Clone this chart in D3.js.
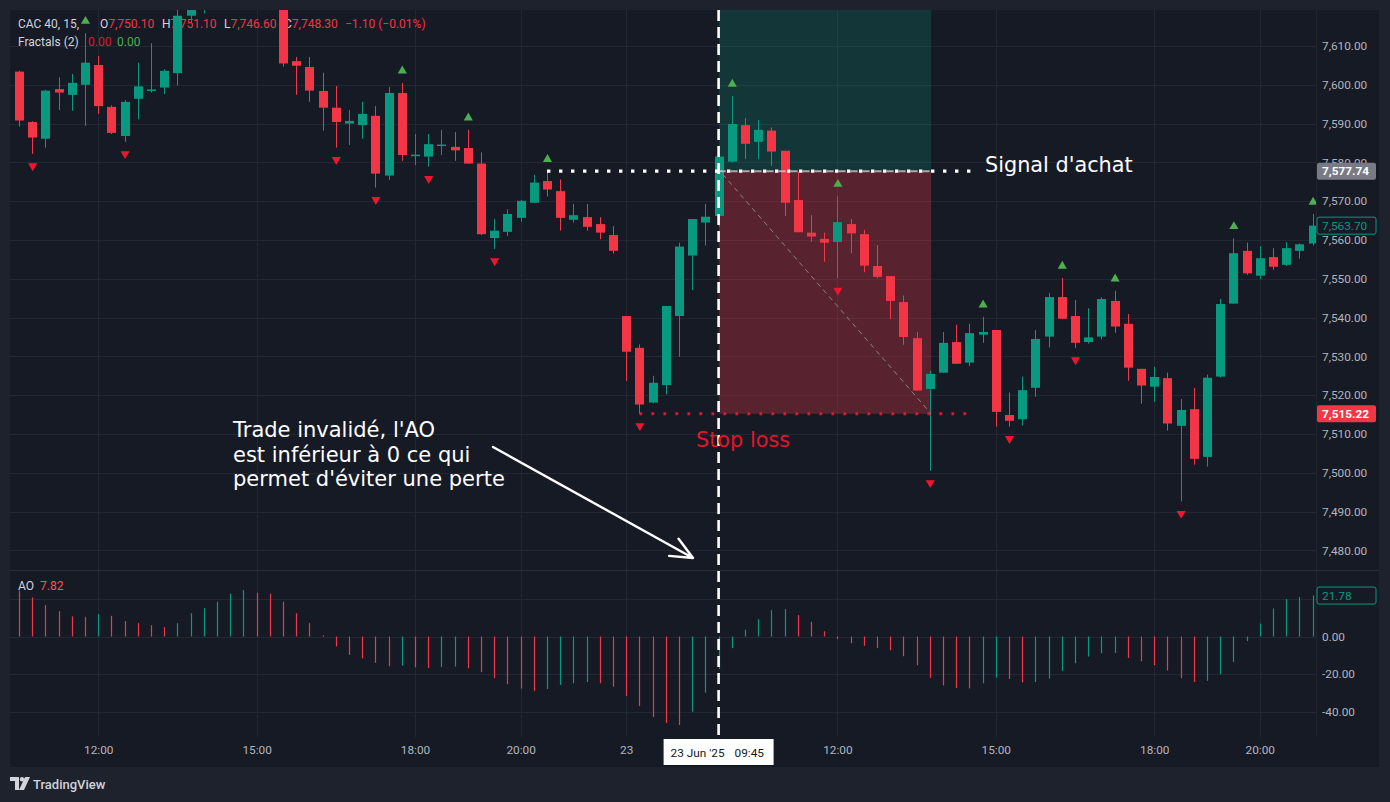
<!DOCTYPE html>
<html><head><meta charset="utf-8">
<script src="https://cdn.jsdelivr.net/npm/d3@7"></script>
<style>
html,body{margin:0;padding:0;background:#1e222d;}
svg{display:block;}
</style></head>
<body><svg id="c" width="1390" height="802"></svg>
<script>
// ---------- DATA ----------
const opens = [7603.4,7590.4,7586.1,7598.9,7597.4,7600.0,7605.1,7594.3,7586.8,7596.4,7598.5,7599.3,7603.0,7617.8,7626.0,7630.0,7637.0,7633.0,7629.0,7626.0,
7624.0,7606.1,7604.6,7598.4,7594.1,7590.0,7589.6,7592.0,7576.6,7597.9,7581.6,7581.5,7584.4,7584.0,7583.7,7579.7,7560.5,7562.1,7565.7,7569.6,
7575.2,7572.6,7565.2,7565.9,7564.1,7561.3,7540.4,7532.2,7518.1,7522.6,7540.4,7556.0,7564.5,7566.2,7580.2,7589.6,7585.3,7588.2,7583.0,7570.3,
7561.9,7560.3,7559.5,7564.1,7561.5,7553.3,7550.7,7544.0,7534.7,7521.6,7525.8,7533.7,7528.4,7535.6,7536.8,7514.9,7513.8,7521.9,7535.1,7545.3,
7540.4,7533.7,7535.1,7544.3,7538.4,7526.8,7522.2,7524.4,7512.1,7516.4,7504.1,7524.8,7543.6,7557.2,7550.8,7555.6,7553.6,7557.2,7559.1];
const highs = [7603.6,7590.6,7598.7,7601.9,7602.8,7613.3,7607.4,7594.7,7596.1,7605.7,7610.7,7604.0,7619.3,7628.0,7634.0,7640.0,7642.0,7638.0,7633.0,7630.0,
7626.0,7607.2,7607.2,7603.1,7599.7,7593.5,7595.6,7594.5,7599.4,7600.5,7587.3,7587.3,7588.4,7587.8,7588.4,7582.6,7565.4,7567.9,7570.3,7576.8,
7577.7,7575.6,7569.3,7569.3,7565.9,7563.6,7540.4,7533.1,7525.0,7543.0,7559.3,7565.4,7569.3,7581.7,7597.1,7591.4,7590.9,7589.0,7583.0,7577.6,
7566.4,7561.9,7571.3,7565.4,7562.6,7558.7,7550.7,7545.7,7536.3,7526.3,7536.3,7538.2,7538.4,7540.2,7536.8,7520.7,7524.8,7536.8,7546.3,7550.2,
7544.5,7542.4,7545.2,7546.9,7540.9,7526.8,7527.3,7525.8,7519.0,7521.9,7525.3,7544.8,7560.4,7559.3,7558.4,7557.9,7559.5,7559.1,7566.7];
const lows = [7589.2,7582.2,7583.8,7593.5,7593.3,7589.4,7592.5,7587.3,7585.3,7591.1,7598.0,7597.6,7599.8,7616.0,7618.4,7627.0,7630.0,7626.0,7622.0,7621.0,
7604.7,7597.4,7595.6,7588.2,7583.8,7584.5,7586.1,7573.5,7575.5,7580.4,7579.3,7578.9,7581.9,7580.4,7579.6,7561.3,7557.7,7561.0,7564.7,7569.5,
7571.2,7562.4,7564.5,7562.4,7560.2,7556.5,7523.7,7515.2,7517.9,7520.2,7529.9,7547.1,7558.6,7563.4,7580.0,7580.9,7580.8,7579.1,7566.2,7562.0,
7559.5,7554.4,7550.1,7556.6,7551.7,7550.1,7539.6,7533.0,7521.2,7500.5,7525.8,7528.1,7527.5,7533.5,7511.9,7511.9,7512.2,7519.6,7532.3,7539.6,
7532.2,7533.3,7534.4,7536.1,7523.7,7517.8,7518.3,7510.9,7492.6,7502.1,7501.6,7524.6,7543.6,7551.0,7549.9,7552.3,7553.3,7555.2,7558.6];
const closes = [7590.8,7586.4,7598.5,7598.0,7600.5,7605.7,7594.5,7587.6,7595.6,7599.6,7598.8,7603.6,7617.8,7626.0,7630.0,7637.0,7633.0,7629.0,7626.0,7624.0,
7605.5,7604.9,7598.5,7594.1,7590.4,7590.7,7592.5,7577.1,7597.9,7581.9,7582.0,7584.7,7584.6,7583.1,7579.7,7561.5,7562.4,7566.7,7570.1,7574.8,
7573.0,7565.7,7566.4,7563.4,7561.9,7557.2,7531.2,7517.6,7523.2,7543.0,7558.3,7565.4,7566.0,7581.5,7589.9,7584.8,7588.4,7582.8,7569.6,7562.0,
7560.9,7559.3,7564.6,7561.7,7553.4,7550.5,7544.3,7535.0,7521.2,7525.5,7533.5,7528.1,7536.0,7536.3,7515.7,7513.4,7521.3,7534.5,7545.3,7539.7,
7533.5,7534.9,7544.8,7537.7,7527.1,7522.5,7524.7,7512.7,7516.2,7503.6,7524.5,7543.5,7556.6,7551.4,7555.3,7553.1,7557.9,7558.9,7563.7];
const aoValues = [24.4,20.8,16.7,13.5,10.7,10.5,11.9,11.0,8.2,7.1,6.0,5.0,7.1,12.4,15.1,18.5,22.8,24.7,23.3,22.8,
18.5,12.4,7.1,0.7,-5.3,-9.8,-11.6,-14.0,-15.8,-15.5,-16.4,-16.7,-16.2,-16.0,-16.9,-19.0,-22.2,-25.4,-27.7,-29.0,
-27.9,-25.8,-24.9,-24.2,-24.9,-26.7,-31.6,-37.0,-42.8,-46.0,-47.1,-40.0,-29.9,-17.4,-6.2,3.6,9.2,14.0,14.6,11.4,
7.8,2.8,-1.4,-3.6,-5.0,-6.2,-7.3,-10.5,-15.3,-22.0,-26.0,-27.4,-27.6,-24.9,-21.9,-22.6,-24.4,-24.2,-22.4,-18.3,
-14.2,-10.7,-8.9,-8.7,-11.4,-13.2,-15.3,-18.1,-22.2,-24.2,-23.6,-20.1,-13.5,-2.5,6.9,14.9,19.9,21.0,21.78];
const aoBefore = 27.0;
const fractalUp = [5,29,34,40,54,62,73,79,83,92,98];
const fractalDown = [1,8,24,27,31,36,47,62,69,75,80,88];
const priceTicks = [7480,7490,7500,7510,7520,7530,7540,7550,7560,7570,7580,7590,7600,7610];
const aoTicks = [-40,-20,0,20];
const aoTickLabels = ["-40.00","-20.00","0.00",""];
const timeTickIdx = [6,18,30,38,46,62,74,86,94];
const timeTickLabels = ["12:00","15:00","18:00","20:00","23","12:00","15:00","18:00","20:00"];
const signalBar = 53, signalLabelA = "23 Jun '25", signalLabelB = "09:45";
const entryPrice = 7577.74, stopPrice = 7515.22, targetPrice = 7640.26, lastPrice = 7563.70, lastAO = 21.78;
const positionEndBar = 69.1, signalLineStart = 40, signalLineEndBar = 72.1, stopLineStart = 47, stopLineEndBar = 72.0;
const noteLines = ["Trade invalidé, l'AO","est inférieur à 0 ce qui","permet d'éviter une perte"];

// ---------- LAYOUT ----------
const L = 10, R = 1316, T = 10, MB = 570, AT = 571, AB = 737, XB = 767;
const svg = d3.select("#c");
const C = {bg:"#161a25", outer:"#1e222d", grid:"#232733", border:"#2a2e39", text:"#b2b5be",
  up:"#089981", down:"#f23645", fup:"#4caf50", fdown:"#f0152f"};
const FONT = "Roboto, 'Noto Sans', sans-serif";

const x = d3.scaleLinear().domain([0, 98]).range([19, 1312.6]);
const y = d3.scaleLinear().domain([7480, 7610]).range([550.4, 46]);
const ya = d3.scaleLinear().domain([-40, 0]).range([711.7, 636.5]);

svg.append("rect").attr("width",1390).attr("height",802).attr("fill",C.outer);
svg.append("rect").attr("x",L).attr("y",T).attr("width",1379-L).attr("height",XB-T).attr("fill",C.bg);

const defs = svg.append("defs");
defs.append("clipPath").attr("id","cm").append("rect").attr("x",L).attr("y",T).attr("width",R-L).attr("height",MB-T);
defs.append("clipPath").attr("id","ca").append("rect").attr("x",L).attr("y",AT).attr("width",R-L).attr("height",AB-AT);

// gridlines
const grid = svg.append("g");
grid.selectAll(".vg").data(timeTickIdx).join("line")
  .attr("x1",d=>Math.round(x(d))+0.5).attr("x2",d=>Math.round(x(d))+0.5)
  .attr("y1",T).attr("y2",AB).attr("stroke",C.grid);
grid.selectAll(".hg").data(priceTicks).join("line")
  .attr("x1",L).attr("x2",R).attr("y1",d=>Math.round(y(d))+0.5).attr("y2",d=>Math.round(y(d))+0.5).attr("stroke",C.grid);
grid.selectAll(".ag").data(aoTicks).join("line")
  .attr("x1",L).attr("x2",R).attr("y1",d=>Math.round(ya(d))+0.5).attr("y2",d=>Math.round(ya(d))+0.5).attr("stroke",C.grid);

// separators
svg.append("line").attr("x1",L).attr("x2",1379).attr("y1",MB+0.5).attr("y2",MB+0.5).attr("stroke",C.border);
svg.append("line").attr("x1",R+0.5).attr("x2",R+0.5).attr("y1",T).attr("y2",AB).attr("stroke",C.border).attr("stroke-opacity",0.5);

// header legends
const hdr = svg.append("g").attr("font-family",FONT).attr("font-size",12);
function txt(g, xx, yy, s, col){ return g.append("text").attr("x",xx).attr("y",yy).attr("fill",col).text(s); }
txt(hdr,18,28,"CAC 40, 15,","#d1d4dc");
[["O","7,750.10",100],["H","7,751.10",162],["L","7,746.60",224],["C","7,748.30",284]].forEach(([k,v,xx])=>{
  const t = hdr.append("text").attr("x",xx).attr("y",28);
  t.append("tspan").attr("fill","#d1d4dc").text(k);
  t.append("tspan").attr("fill",C.down).text(v);
});
txt(hdr,345,28,"\u22121.10 (\u22120.01%)",C.down);
txt(hdr,18,46,"Fractals (2)","#d1d4dc");
txt(hdr,88,46,"0.00","#e0162b");
txt(hdr,117,46,"0.00","#4caf50");
txt(hdr,18,590,"AO","#d1d4dc");
txt(hdr,40,590,"7.82","#f7525f");

// ---------- position tool zones ----------
const pos = svg.append("g").attr("clip-path","url(#cm)");
pos.append("rect").attr("x",x(signalBar)).attr("width",x(positionEndBar)-x(signalBar))
  .attr("y",y(targetPrice)).attr("height",y(entryPrice)-y(targetPrice)).attr("fill","rgba(8,153,129,0.22)");
pos.append("rect").attr("x",x(signalBar)).attr("width",x(positionEndBar)-x(signalBar))
  .attr("y",y(entryPrice)).attr("height",y(stopPrice)-y(entryPrice)).attr("fill","rgba(242,54,69,0.30)");

// ---------- candles ----------
const bars = d3.range(opens.length).map(i=>({i,o:opens[i],h:highs[i],l:lows[i],c:closes[i]}));
const cg = svg.append("g").attr("clip-path","url(#cm)");
const bw = 9;
cg.selectAll(".w").data(bars).join("line")
  .attr("x1",d=>Math.round(x(d.i))+0.5).attr("x2",d=>Math.round(x(d.i))+0.5)
  .attr("y1",d=>y(d.h)).attr("y2",d=>y(d.l))
  .attr("stroke",d=>d.c>=d.o?C.up:C.down).attr("stroke-width",1);
cg.selectAll(".b").data(bars).join("rect")
  .attr("x",d=>Math.round(x(d.i))-4).attr("width",bw)
  .attr("y",d=>y(Math.max(d.o,d.c))).attr("height",d=>Math.max(1.5,Math.abs(y(d.o)-y(d.c))))
  .attr("fill",d=>d.c>=d.o?C.up:C.down);

// fractals
const tri = d3.symbol().type(d3.symbolTriangle).size(36);
cg.selectAll(".fu").data(fractalUp).join("path").attr("d",tri)
  .attr("transform",i=>`translate(${x(i)+0.5},${y(highs[i])-12})`).attr("fill",C.fup);
cg.selectAll(".fd").data(fractalDown).join("path").attr("d",tri)
  .attr("transform",i=>`translate(${x(i)+0.5},${y(lows[i])+12}) rotate(180)`).attr("fill",C.fdown);

// ---------- lines of the annotation ----------
const an = svg.append("g").attr("clip-path","url(#cm)");
an.append("line").attr("x1",x(signalBar)).attr("x2",x(positionEndBar)).attr("y1",y(entryPrice)).attr("y2",y(entryPrice))
  .attr("stroke","#d8d0d4").attr("stroke-width",2).attr("stroke-dasharray","7,5").attr("stroke-opacity",0.75);
an.append("line").attr("x1",x(signalBar)+4).attr("x2",x(positionEndBar)).attr("y1",y(entryPrice)+3).attr("y2",y(stopPrice))
  .attr("stroke","#9598a1").attr("stroke-width",1).attr("stroke-dasharray","5,4").attr("stroke-opacity",0.8);
an.append("line").attr("x1",x(signalLineStart)).attr("x2",x(signalLineEndBar)).attr("y1",y(entryPrice)).attr("y2",y(entryPrice))
  .attr("stroke","#ffffff").attr("stroke-width",3.4).attr("stroke-dasharray","3.4,8.6");
an.append("line").attr("x1",x(stopLineStart)).attr("x2",x(stopLineEndBar)).attr("y1",y(stopPrice)).attr("y2",y(stopPrice))
  .attr("stroke","#e0162b").attr("stroke-width",2.8).attr("stroke-dasharray","2.8,9.2");

// ---------- AO histogram ----------
const ag = svg.append("g").attr("clip-path","url(#ca)");
ag.selectAll("line").data(aoValues).join("line")
  .attr("x1",(d,i)=>Math.round(x(i))+0.5).attr("x2",(d,i)=>Math.round(x(i))+0.5)
  .attr("y1",ya(0)).attr("y2",d=>ya(d))
  .attr("stroke",(d,i)=> d > (i===0?aoBefore:aoValues[i-1]) ? C.up : C.down).attr("stroke-width",1.2);

// vertical dashed signal line
svg.append("line").attr("x1",x(signalBar)).attr("x2",x(signalBar)).attr("y1",T).attr("y2",738)
  .attr("stroke","#ffffff").attr("stroke-width",2.6).attr("stroke-dasharray","11,6");

// ---------- axes ----------
const pAxis = d3.axisRight(y).tickValues(priceTicks).tickFormat(d3.format(",.2f")).tickSize(0).tickPadding(6);
const pa = svg.append("g").attr("transform",`translate(${R},0)`).call(pAxis);
pa.select(".domain").remove();
pa.selectAll("text").attr("fill",C.text).attr("font-family",FONT).attr("font-size",11.8);

const aAxis = d3.axisRight(ya).tickValues(aoTicks.slice(0,3)).tickFormat((d,i)=>aoTickLabels[i]).tickSize(0).tickPadding(6);
const aa = svg.append("g").attr("transform",`translate(${R},0)`).call(aAxis);
aa.select(".domain").remove();
aa.selectAll("text").attr("fill",C.text).attr("font-family",FONT).attr("font-size",11.8);

const tAxis = d3.axisBottom(x).tickValues(timeTickIdx).tickFormat((d,i)=>timeTickLabels[i]).tickSize(0).tickPadding(9);
const ta = svg.append("g").attr("transform",`translate(0,${AB})`).call(tAxis);
ta.select(".domain").remove();
ta.selectAll("text").attr("fill",C.text).attr("font-family",FONT).attr("font-size",11.8);

// price labels
function priceTag(val, scale, bg, fg, stroke, bold){
  const g = svg.append("g").attr("transform",`translate(${R},${scale(val)})`);
  g.append("rect").attr("x",1).attr("y",-8.5).attr("width",59).attr("height",17).attr("rx",2)
    .attr("fill",bg).attr("stroke",stroke||"none");
  g.append("text").attr("x",6).attr("y",4.2).attr("fill",fg).attr("font-family",FONT)
    .attr("font-size",11.8).attr("font-weight",bold?700:400).text(d3.format(",.2f")(val));
}
priceTag(entryPrice, y, "#787b86", "#ffffff", null, true);
priceTag(lastPrice, y, C.bg, C.up, C.up, false);
priceTag(stopPrice, y, C.down, "#ffffff", null, true);
priceTag(lastAO, ya, C.bg, C.up, C.up, false);

// signal time label
const sl = svg.append("g").attr("transform",`translate(${x(signalBar)},752)`);
sl.append("rect").attr("x",-55).attr("y",-13).attr("width",110).attr("height",26).attr("fill","#ffffff");
sl.append("text").attr("x",-48).attr("y",4.5).attr("fill","#131722").attr("font-family",FONT).attr("font-size",11.8).text(signalLabelA);
sl.append("text").attr("x",16).attr("y",4.5).attr("fill","#131722").attr("font-family",FONT).attr("font-size",11.8).text(signalLabelB);

// ---------- text annotations ----------
const ANF = "'DejaVu Sans', 'Open Sans', sans-serif";
svg.append("text").attr("x",985).attr("y",172).attr("fill","#ffffff").attr("font-family",ANF).attr("font-size",20.8).text("Signal d'achat");
svg.append("text").attr("x",696).attr("y",447).attr("fill","#e0162b").attr("font-family",ANF).attr("font-size",20.8).text("Stop loss");
noteLines.forEach((s,k)=>{
  svg.append("text").attr("x",233).attr("y",437+k*24.5).attr("fill","#ffffff")
    .attr("font-family",ANF).attr("font-size",21).text(s);
});
// arrow
const ax1=493, ay1=447, ax2=693, ay2=558;
const ang = Math.atan2(ay2-ay1, ax2-ax1), hl = 24, ha = 0.42;
svg.append("path").attr("d",`M${ax1},${ay1}L${ax2},${ay2}M${ax2-hl*Math.cos(ang-ha)},${ay2-hl*Math.sin(ang-ha)}L${ax2},${ay2}L${ax2-hl*Math.cos(ang+ha)},${ay2-hl*Math.sin(ang+ha)}`)
  .attr("stroke","#ffffff").attr("stroke-width",2.4).attr("fill","none").attr("stroke-linecap","round").attr("stroke-linejoin","round");

// footer logo
const lg = svg.append("g").attr("transform","translate(10,777)");
lg.append("path").attr("d","M0,0H9V13H5V4H0Z").attr("fill","#d1d4dc");
lg.append("circle").attr("cx",12).attr("cy",2.2).attr("r",2.2).attr("fill","#d1d4dc");
lg.append("path").attr("d","M15,0H20L14,13H9Z").attr("fill","#d1d4dc");
svg.append("text").attr("x",33).attr("y",789).attr("fill","#d1d4dc").attr("font-family",FONT).attr("font-size",13).attr("font-weight",500).text("TradingView");
</script></body></html>
